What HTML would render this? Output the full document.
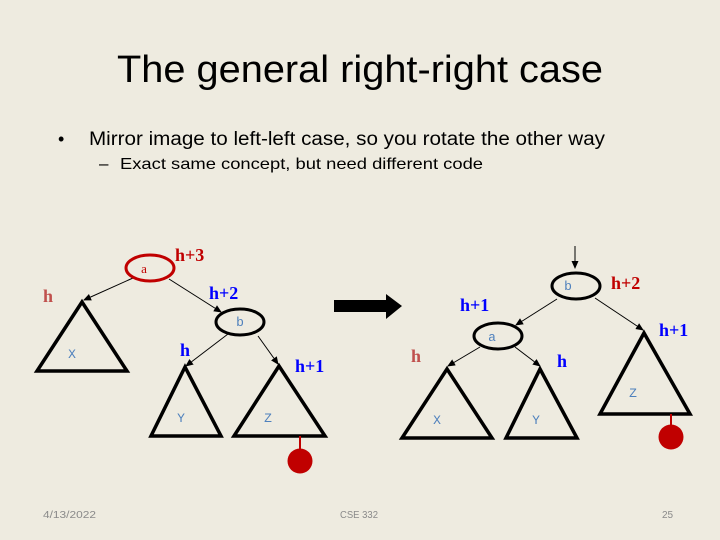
<!DOCTYPE html>
<html><head><meta charset="utf-8"><style>
html,body{margin:0;padding:0;background:#eeebe0;}
svg{display:block}
</style></head><body>
<svg width="720" height="540" viewBox="0 0 720 540" xmlns="http://www.w3.org/2000/svg">
<defs>
<marker id="ah" markerWidth="8" markerHeight="8" refX="7" refY="4" orient="auto" markerUnits="userSpaceOnUse">
<path d="M0,0.5 L8,4 L0,7.5 z" fill="#000"/>
</marker>
</defs>
<rect width="720" height="540" fill="#eeebe0"/>
<g font-family="Liberation Sans, sans-serif" fill="#000">
<text x="117" y="82" font-size="38" textLength="486" lengthAdjust="spacingAndGlyphs">The general right-right case</text>
<text x="58" y="145" font-size="18">•</text>
<text x="89" y="145" font-size="19" textLength="516" lengthAdjust="spacingAndGlyphs">Mirror image to left-left case, so you rotate the other way</text>
<text x="99" y="169" font-size="17">–</text>
<text x="120" y="169" font-size="16" textLength="363" lengthAdjust="spacingAndGlyphs">Exact same concept, but need different code</text>
<g font-size="10" fill="#8a8a8a">
<text x="43" y="518" textLength="53" lengthAdjust="spacingAndGlyphs">4/13/2022</text>
<text x="340" y="518" textLength="38" lengthAdjust="spacingAndGlyphs">CSE 332</text>
<text x="662" y="518">25</text>
</g>
</g>

<!-- LEFT TREE -->
<g stroke="#000" stroke-width="1" fill="none">
<line x1="133" y1="278" x2="84" y2="300" marker-end="url(#ah)"/>
<line x1="169" y1="279" x2="221" y2="312" marker-end="url(#ah)"/>
<line x1="228" y1="334" x2="186" y2="366" marker-end="url(#ah)"/>
<line x1="258" y1="336" x2="278" y2="364" marker-end="url(#ah)"/>
</g>
<ellipse cx="150" cy="268" rx="24" ry="13" fill="none" stroke="#c00000" stroke-width="3"/>
<ellipse cx="240" cy="322" rx="24" ry="13" fill="none" stroke="#000" stroke-width="3"/>
<g fill="none" stroke="#000" stroke-width="3.5" stroke-linejoin="miter">
<polygon points="82,302 37,371 127,371"/>
<polygon points="185,367 151,436 221,436"/>
<polygon points="279,366 234,436 325,436"/>
</g>
<line x1="300" y1="436" x2="300" y2="450" stroke="#c00000" stroke-width="2"/>
<circle cx="300" cy="461" r="12.5" fill="#c00000"/>

<g font-family="Liberation Mono, monospace" font-size="13" fill="#4f81bd" text-anchor="middle">
<text x="72" y="358">X</text>
<text x="240" y="326">b</text>
<text x="181" y="422">Y</text>
<text x="268" y="422">Z</text>
</g>
<text x="144" y="273" font-family="Liberation Serif, serif" font-size="13" fill="#c00000" text-anchor="middle">a</text>
<g font-family="Liberation Serif, serif" font-weight="bold" font-size="18">
<text x="175" y="261" fill="#c00000">h+3</text>
<text x="43" y="302" fill="#c0504d">h</text>
<text x="209" y="299" fill="#0000ff">h+2</text>
<text x="180" y="356" fill="#0000ff">h</text>
<text x="295" y="372" fill="#0000ff">h+1</text>
</g>

<!-- BIG ARROW -->
<polygon points="334,300 386,300 386,294 402,306 386,319 386,312 334,312" fill="#000"/>

<!-- RIGHT TREE -->
<g stroke="#000" stroke-width="1" fill="none">
<line x1="575" y1="246" x2="575" y2="268" marker-end="url(#ah)"/>
<line x1="557" y1="299" x2="516" y2="325" marker-end="url(#ah)"/>
<line x1="595" y1="298" x2="643" y2="330" marker-end="url(#ah)"/>
<line x1="480" y1="347" x2="448" y2="366" marker-end="url(#ah)"/>
<line x1="515" y1="347" x2="540" y2="366" marker-end="url(#ah)"/>
</g>
<ellipse cx="576" cy="286" rx="24" ry="13" fill="none" stroke="#000" stroke-width="3"/>
<ellipse cx="498" cy="336" rx="24" ry="13" fill="none" stroke="#000" stroke-width="3"/>
<g fill="none" stroke="#000" stroke-width="3.5">
<polygon points="644,333 600,414 690,414"/>
<polygon points="447,369 402,438 492,438"/>
<polygon points="540,369 506,438 577,438"/>
</g>
<line x1="671" y1="414" x2="671" y2="427" stroke="#c00000" stroke-width="2"/>
<circle cx="671" cy="437" r="12.5" fill="#c00000"/>

<g font-family="Liberation Mono, monospace" font-size="13" fill="#4f81bd" text-anchor="middle">
<text x="568" y="290">b</text>
<text x="492" y="341">a</text>
<text x="633" y="397">Z</text>
<text x="437" y="424">X</text>
<text x="536" y="424">Y</text>
</g>
<g font-family="Liberation Serif, serif" font-weight="bold" font-size="18">
<text x="611" y="289" fill="#c00000">h+2</text>
<text x="460" y="311" fill="#0000ff">h+1</text>
<text x="659" y="336" fill="#0000ff">h+1</text>
<text x="411" y="362" fill="#c0504d">h</text>
<text x="557" y="367" fill="#0000ff">h</text>
</g>
</svg>
</body></html>
